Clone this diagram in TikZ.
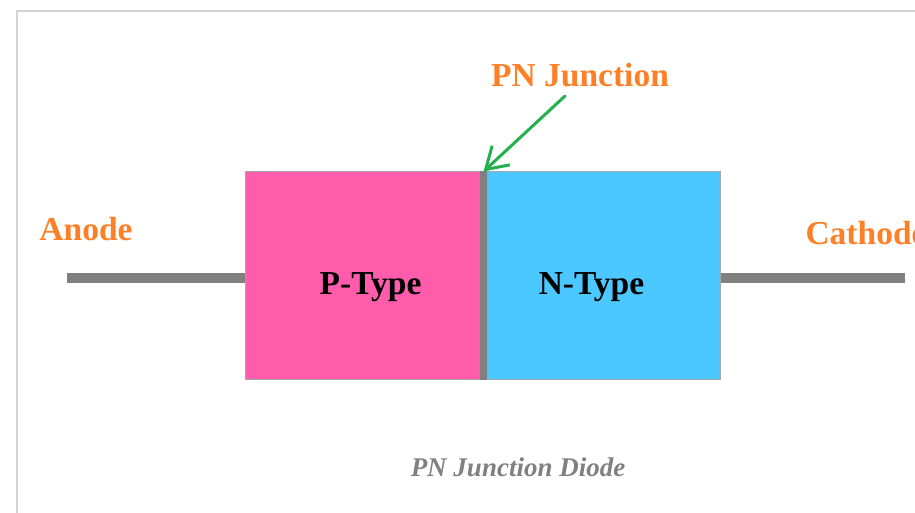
\documentclass[tikz,border=0pt]{standalone}
\usepackage{fontspec}
\setmainfont{Liberation Serif}
\usetikzlibrary{arrows.meta,positioning}
\definecolor{leadgray}{HTML}{808080}
\definecolor{framegray}{HTML}{D3D3D3}
\definecolor{ptypepink}{HTML}{FF5CAC}
\definecolor{ntypeblue}{HTML}{4BC8FF}
\definecolor{labelorange}{HTML}{FF7F27}
\definecolor{arrowgreen}{HTML}{22B14C}
\tikzset{
  region/.style={draw=leadgray!70, line width=1pt, minimum height=207pt, inner sep=0pt},
  lead/.style={draw=leadgray, line width=10pt},
  regiontext/.style={font=\fontsize{33.5}{38}\selectfont\bfseries, text=black},
  termlabel/.style={font=\fontsize{33.5}{38}\selectfont\bfseries, text=labelorange},
}
\begin{document}
\begin{tikzpicture}[x=1pt, y=-1pt]
  \useasboundingbox (0,0) rectangle (915,513);
  \clip (0,0) rectangle (915,513);
  % frame
  \draw[framegray, line width=1.5pt] (17,513) -- (17,11) -- (915,11);

  % semiconductor regions
  \node[region, fill=ptypepink, minimum width=235pt] (ptype) at (362.5,275.5) {};
  \node[region, fill=leadgray, draw=leadgray, minimum width=7pt] (junction) at (483.5,275.5) {};
  \node[region, fill=ntypeblue, minimum width=233pt] (ntype) at (603.5,275.5) {};
  \node[regiontext] (ptext) at ([shift={(8,12)}]ptype.center) {P-Type};
  \node[regiontext] (ntext) at ([shift={(-12,12)}]ntype.center) {N-Type};

  % terminals
  \coordinate (anodeend) at (67,278);
  \coordinate (cathodeend) at (905,278);
  \draw[lead] (anodeend) -- (anodeend -| ptype.west);
  \draw[lead] (cathodeend -| ntype.east) -- (cathodeend);
  \node[termlabel] (anode) at (86,229) {Anode};
  \node[termlabel, anchor=west] (cathode) at (802,233) {Cathode};

  % junction pointer
  \node[termlabel] (pnlabel) at (580,75) {PN Junction};
  \coordinate (arrowstart) at (565,96);
  \draw[arrowgreen, line width=3pt, line cap=round,
        -{Straight Barb[length=21pt, width=26pt, line width=3pt]}]
        (arrowstart) -- (junction.north);

  % caption
  \node[font=\fontsize{27}{32}\selectfont\bfseries\itshape, text=leadgray] (caption) at (518,467) {PN Junction Diode};
\end{tikzpicture}
\end{document}
